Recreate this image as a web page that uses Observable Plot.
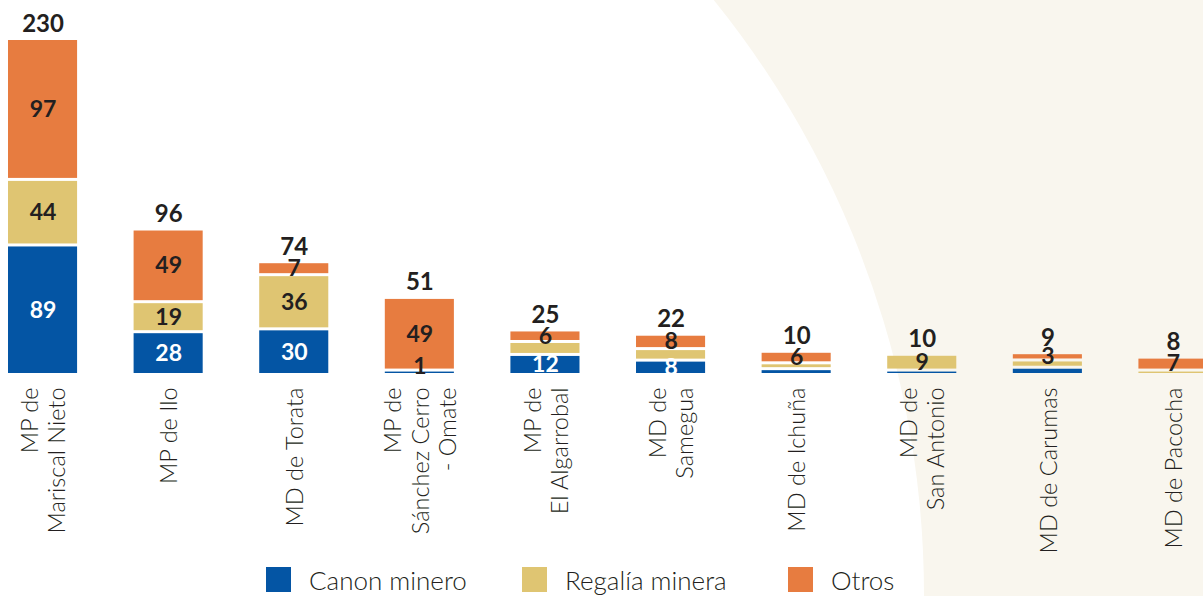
<!DOCTYPE html>
<html><head><meta charset="utf-8">
<script src="https://cdn.jsdelivr.net/npm/d3@7"></script>
<script src="https://cdn.jsdelivr.net/npm/@observablehq/plot@0.6"></script>
<style>
html,body{margin:0;padding:0;background:#f9f6ee;width:1203px;height:596px;overflow:hidden;font-family:Lato,"Open Sans",sans-serif;}
#bg{position:absolute;left:-970px;top:-352px;width:1894px;height:1894px;border-radius:50%;background:#fff;}
#chart{position:absolute;left:0;top:0;}
#legend{position:absolute;left:0;top:555px;width:1203px;height:41px;}
.item{position:absolute;top:12px;height:25px;display:flex;align-items:center;font-size:26px;color:#231f20;font-weight:300;white-space:nowrap}
.sw{width:25px;height:25px;margin-right:18px;flex:none}
</style></head><body>
<div id="bg"></div><div id="chart"></div><div id="legend"></div>
<script>
const categories = [
  "MP de\nMariscal Nieto",
  "MP de Ilo",
  "MD de Torata",
  "MP de\nSánchez Cerro\n- Omate",
  "MP de\nEl Algarrobal",
  "MD de\nSamegua",
  "MD de Ichuña",
  "MD de\nSan Antonio",
  "MD de Carumas",
  "MD de Pacocha"
];
const canon   = [89, 28, 30, 1, 12, 8, 2, 1, 3, 0];
const regalia = [44, 19, 36, 0, 7, 6, 2, 9, 3, 1];
const otros   = [97, 49, 7, 49, 6, 8, 6, 0, 3, 7];
const totals  = [230, 96, 74, 51, 25, 22, 10, 10, 9, 8];
const canonLabels   = [89, 28, 30, 1, 12, 8, null, null, null, null];
const regaliaLabels = [44, 19, 36, null, null, null, null, 9, null, null];
const otrosLabels   = [97, 49, 7, 49, 6, 8, 6, null, 3, 7];
const seriesNames  = ["Canon minero", "Regalía minera", "Otros"];
const seriesColors = ["#0455a4", "#dfc572", "#e77c40"];

const GAP = 2.11; // visual gap between stacked segments, in value units
const seriesValues = [canon, regalia, otros];
const seriesLabels = [canonLabels, regaliaLabels, otrosLabels];
const segments = [];
const tops = [];
categories.forEach((cat, i) => {
  let cursor = 0, started = false;
  seriesNames.forEach((s, k) => {
    const v = seriesValues[k][i];
    if (v > 0) {
      if (started) cursor += GAP;
      segments.push({cat, series: s, k, value: v, y1: cursor, y2: cursor + v, label: seriesLabels[k][i]});
      cursor += v;
      started = true;
    }
  });
  tops.push({cat, total: totals[i], top: cursor});
});
const maxTop = d3.max(tops, d => d.top);
const labeled = segments.filter(d => d.label != null);
const tiny = d => (d.y2 - d.y1) < 2;

const chart = Plot.plot({
  width: 1203,
  height: 555,
  marginTop: 0, marginLeft: 0, marginRight: 0, marginBottom: 182,
  style: {background: "transparent", overflow: "visible", fontFamily: "Lato, 'Open Sans', sans-serif", color: "#231f20"},
  x: {domain: categories, range: [8, 1207.5], paddingInner: 0.45, paddingOuter: 0, round: false, label: null},
  y: {domain: [0, maxTop], range: [373, 40], axis: null},
  color: {domain: seriesNames, range: seriesColors},
  marks: [
    Plot.rectY(segments, {x: "cat", y1: "y1", y2: "y2", fill: "series"}),
    Plot.text(labeled.filter(d => d.k === 0 && !tiny(d)), {x: "cat", y: d => (d.y1 + d.y2) / 2, text: d => String(d.label), fill: "white", fontSize: 23, fontWeight: 700}),
    Plot.text(labeled.filter(d => d.k !== 0 && !tiny(d)), {x: "cat", y: d => (d.y1 + d.y2) / 2, text: d => String(d.label), fill: "#231f20", fontSize: 23, fontWeight: 700}),
    Plot.text(labeled.filter(d => tiny(d)), {x: "cat", y: "y2", text: d => String(d.label), fill: "#231f20", fontSize: 23, fontWeight: 700, lineAnchor: "bottom", dy: 2}),
    Plot.text(tops, {x: "cat", y: "top", text: d => String(d.total), fill: "#231f20", fontSize: 24, fontWeight: 700, lineAnchor: "bottom", dy: -9}),
    Plot.axisX({tickSize: 0, tickPadding: 14, tickRotate: -90, fontSize: 23.5, lineHeight: 1.15, fontWeight: 300, fill: "#231f20", label: null})
  ]
});
document.getElementById("chart").appendChild(chart);

const legendX = [266, 522, 788];
const legend = document.getElementById("legend");
seriesNames.forEach((s, k) => {
  const it = document.createElement("div");
  it.className = "item";
  it.style.left = legendX[k] + "px";
  it.innerHTML = `<span class="sw" style="background:${seriesColors[k]}"></span><span>${s}</span>`;
  legend.appendChild(it);
});
</script>
</body></html>
